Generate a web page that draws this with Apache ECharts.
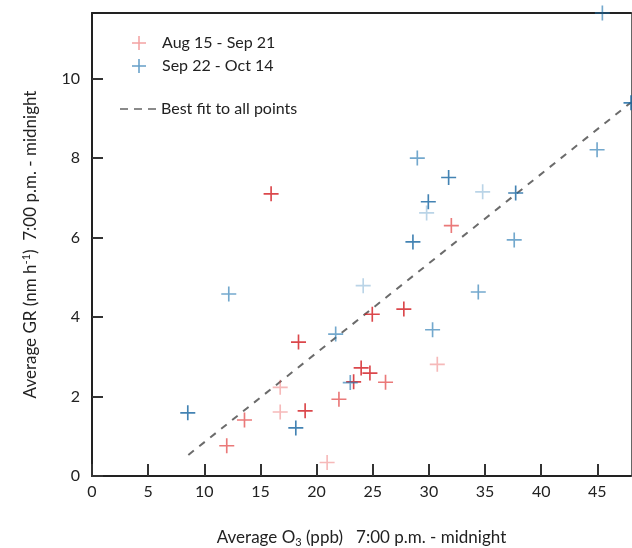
<!DOCTYPE html>
<html>
<head>
<meta charset="utf-8">
<script src="https://cdn.jsdelivr.net/npm/echarts@6/dist/echarts.min.js"></script>
<style>html,body{margin:0;padding:0;background:#fff}#c{width:632px;height:548px}</style>
</head>
<body>
<div id="c"></div>
<script>
// ---- data ----
const augX = [15.95, 32.0, 27.77, 24.96, 18.39, 23.97, 24.75, 26.14, 23.3, 16.76, 30.75, 16.76, 18.98, 13.58, 12.0, 20.94, 21.99];
const augY = [7.10, 6.30, 4.20, 4.07, 3.37, 2.72, 2.59, 2.36, 2.37, 2.23, 2.81, 1.61, 1.64, 1.41, 0.76, 0.34, 1.93];
const augShade = [2, 1, 2, 2, 2, 2, 2, 1, 2, 0, 0, 0, 2, 1, 1, 0, 1];

const sepX = [45.45, 48.0, 44.98, 28.97, 31.76, 34.79, 37.73, 29.95, 29.8, 28.58, 37.6, 34.4, 24.15, 30.33, 12.18, 21.7, 23.0, 8.53, 18.15];
const sepY = [11.65, 9.39, 8.21, 8.00, 7.51, 7.15, 7.12, 6.90, 6.62, 5.89, 5.94, 4.63, 4.79, 3.68, 4.58, 3.57, 2.35, 1.59, 1.21];
const sepShade = [1, 2, 1, 1, 2, 0, 2, 2, 0, 2, 1, 1, 0, 1, 1, 1, 1, 2, 2];

const fitX = [8.58, 48.0];
const fitY = [0.53, 9.40];

const xTicks = [0, 5, 10, 15, 20, 25, 30, 35, 40, 45];
const yTicks = [0, 2, 4, 6, 8, 10];

const seriesNames = ['Aug 15 - Sep 21', 'Sep 22 - Oct 14', 'Best fit to all points'];
// ---- end data ----

const FONT = 'Lato';
const redShades = ['rgba(230,60,60,0.45)', 'rgba(222,40,40,0.78)', 'rgba(210,25,30,1)'];
const blueShades = ['rgba(40,120,180,0.4)', 'rgba(30,115,175,0.78)', 'rgba(20,100,160,1)'];
const PLUS = 'path://M4.45,0h1.1v4.45h4.45v1.1h-4.45v4.45h-1.1v-4.45h-4.45v-1.1h4.45z';
const DASHES = 'path://M0,0h8v2h-8zM14,0h8v2h-8zM28,0h8v2h-8z';

function pts(xs, ys, shades, pal) {
  return xs.map((x, i) => ({ value: [x, ys[i]], itemStyle: { color: pal[shades[i]] } }));
}
function zip(xs, ys) { return xs.map((x, i) => [x, ys[i]]); }

const chart = echarts.init(document.getElementById('c'), null, { renderer: 'canvas' });
chart.setOption({
  animation: false,
  backgroundColor: '#fff',
  textStyle: { fontFamily: FONT },
  grid: { left: 92, right: 1, top: 13, bottom: 72, containLabel: false, outerBoundsMode: 'none' },
  legend: [
    {
      left: 127, top: 30, orient: 'vertical', itemWidth: 36, itemHeight: 14, itemGap: 7,
      icon: PLUS,
      textStyle: { fontFamily: FONT, fontSize: 16, color: '#222' },
      data: [
        { name: seriesNames[0], itemStyle: { color: 'rgba(230,60,60,0.6)' } },
        { name: seriesNames[1], itemStyle: { color: 'rgba(30,115,175,0.85)' } }
      ]
    },
    {
      left: 115, top: 96, orient: 'vertical', itemWidth: 36, itemHeight: 18,
      icon: DASHES,
      textStyle: { fontFamily: FONT, fontSize: 16, color: '#222' },
      data: [{ name: seriesNames[2], itemStyle: { color: '#8a8a8a' } }]
    }
  ],
  xAxis: [
    {
      type: 'value', min: 0, max: 48, position: 'bottom',
      splitLine: { show: false },
      axisLine: { onZero: false, lineStyle: { color: '#222', width: 2 } },
      axisTick: { inside: true, length: 12, customValues: xTicks, lineStyle: { color: '#333', width: 2 } },
      axisLabel: { customValues: xTicks, margin: 8, fontFamily: FONT, fontSize: 16, color: '#222' },
      name: '{a|Average O}{s|3}{a| (ppb)   7:00 p.m. - midnight}',
      nameLocation: 'middle', nameGap: 52,
      nameTextStyle: {
        rich: {
          a: { fontFamily: FONT, fontSize: 17, color: '#222' },
          s: { fontFamily: FONT, fontSize: 11, color: '#222', padding: [9, 0, 0, 0] }
        }
      }
    },
    {
      type: 'value', min: 0, max: 48, position: 'top',
      splitLine: { show: false },
      axisLine: { onZero: false, lineStyle: { color: '#222', width: 2 } },
      axisTick: { show: false }, axisLabel: { show: false }
    }
  ],
  yAxis: [
    {
      type: 'value', min: 0, max: 11.65, position: 'left',
      splitLine: { show: false },
      axisLine: { onZero: false, lineStyle: { color: '#222', width: 2 } },
      axisTick: { inside: true, length: 11, customValues: yTicks, lineStyle: { color: '#333', width: 2 } },
      axisLabel: { customValues: yTicks, margin: 12, fontFamily: FONT, fontSize: 16, color: '#222' },
      name: '{a|Average GR (nm h}{p|-1}{a|)  7:00 p.m. - midnight}',
      nameLocation: 'middle', nameGap: 51,
      nameTextStyle: {
        rich: {
          a: { fontFamily: FONT, fontSize: 17, color: '#222' },
          p: { fontFamily: FONT, fontSize: 11, color: '#222', padding: [0, 0, 9, 0] }
        }
      }
    },
    {
      type: 'value', min: 0, max: 11.65, position: 'right',
      splitLine: { show: false },
      axisLine: { onZero: false, lineStyle: { color: '#666', width: 1 } },
      axisTick: { show: false }, axisLabel: { show: false }
    }
  ],
  series: [
    {
      name: seriesNames[2], type: 'line', data: zip(fitX, fitY),
      symbol: 'none', z: 1,
      lineStyle: { color: '#6b6b6b', width: 2, type: [7, 7] },
      itemStyle: { color: '#6b6b6b' }
    },
    {
      name: seriesNames[0], type: 'scatter', symbol: PLUS, symbolSize: 15, z: 3, clip: false,
      itemStyle: { color: 'rgba(230,60,60,0.6)' },
      data: pts(augX, augY, augShade, redShades)
    },
    {
      name: seriesNames[1], type: 'scatter', symbol: PLUS, symbolSize: 15, z: 3, clip: false,
      itemStyle: { color: 'rgba(30,115,175,0.85)' },
      data: pts(sepX, sepY, sepShade, blueShades)
    }
  ]
});
</script>
</body>
</html>
